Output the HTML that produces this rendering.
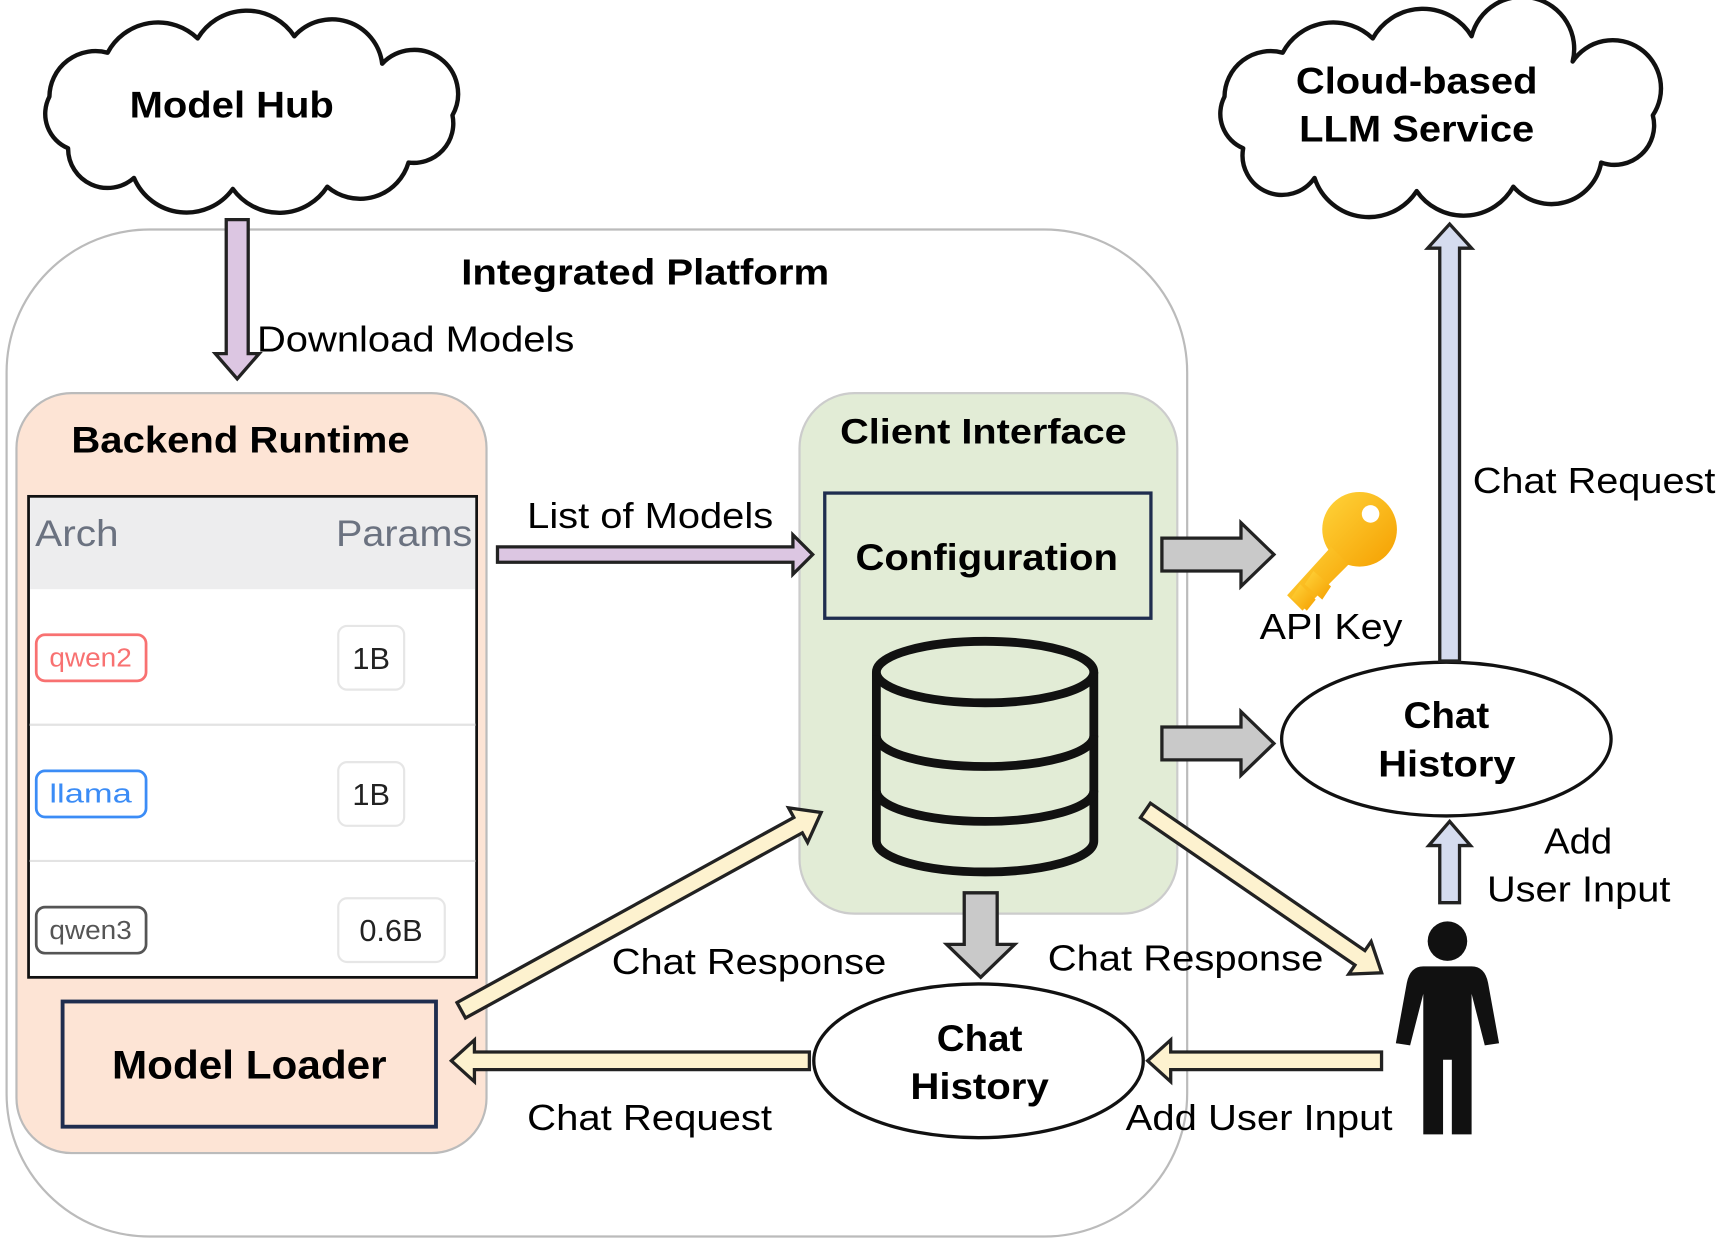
<!DOCTYPE html>
<html><head><meta charset="utf-8"><style>
html,body{margin:0;padding:0;background:#fff}
svg{display:block}
text{font-family:"Liberation Sans",Arial,sans-serif}
</style></head><body>
<svg width="1722" height="1242" viewBox="0 0 1568 1131" preserveAspectRatio="none" xmlns="http://www.w3.org/2000/svg">
<!-- clouds -->
<g fill="#fff" stroke="#111" stroke-width="4" stroke-linejoin="round">
<path d="M62,135 A34,34 0 0 1 45,88 A42,42 0 0 1 98,48 A52,52 0 0 1 180,35 A52,52 0 0 1 268,33 A46,46 0 0 1 348,58 A40,40 0 0 1 412,105 A36,36 0 0 1 372,148 A46,46 0 0 1 298,170 A52,52 0 0 1 212,172 A52,52 0 0 1 122,162 A36,36 0 0 1 62,135 Z"/>
<path d="M1132,135 A34,34 0 0 1 1115,88 A42,42 0 0 1 1168,48 A52,52 0 0 1 1250,35 A52,52 0 0 1 1340,33 A46,46 0 0 1 1432,56 A40,40 0 0 1 1505,105 A36,36 0 0 1 1458,148 A46,46 0 0 1 1378,170 A52,52 0 0 1 1290,174 A52,52 0 0 1 1197,162 A36,36 0 0 1 1132,135 Z"/>
</g>
<text x="118" y="107" font-size="34" font-weight="bold" textLength="186" lengthAdjust="spacingAndGlyphs">Model Hub</text>
<text x="1180" y="85" font-size="34" font-weight="bold" textLength="220" lengthAdjust="spacingAndGlyphs">Cloud-based</text>
<text x="1183" y="129" font-size="34" font-weight="bold" textLength="214" lengthAdjust="spacingAndGlyphs">LLM Service</text>

<!-- integrated platform -->
<rect x="6" y="209" width="1075" height="917" rx="130" fill="#fff" stroke="#bbb" stroke-width="2"/>
<text x="420" y="259" font-size="33" font-weight="bold" textLength="335" lengthAdjust="spacingAndGlyphs">Integrated Platform</text>

<!-- download arrow -->
<polygon points="206,200 226,200 226,322 236,322 216,345 196,322 206,322" fill="#dcc6e2" stroke="#222" stroke-width="3"/>
<text x="234" y="320" font-size="33" textLength="289" lengthAdjust="spacingAndGlyphs">Download Models</text>

<!-- backend runtime -->
<rect x="15" y="358" width="428" height="692" rx="50" fill="#fde4d5" stroke="#bbb" stroke-width="2"/>
<text x="65" y="412" font-size="34" font-weight="bold" textLength="308" lengthAdjust="spacingAndGlyphs">Backend Runtime</text>
<rect x="26" y="452" width="408" height="438" fill="#fff" stroke="#111" stroke-width="2.5"/>
<rect x="27.5" y="453.5" width="405" height="83" fill="#ededee"/>
<line x1="27" y1="660" x2="433" y2="660" stroke="#e3e3e3" stroke-width="2"/>
<line x1="27" y1="784" x2="433" y2="784" stroke="#e3e3e3" stroke-width="2"/>
<text x="32" y="497" font-size="34" fill="#6b7280" textLength="76" lengthAdjust="spacingAndGlyphs">Arch</text>
<text x="306" y="497" font-size="34" fill="#6b7280" textLength="124" lengthAdjust="spacingAndGlyphs">Params</text>
<rect x="33" y="578" width="100" height="42" rx="8" fill="#fff" stroke="#f87171" stroke-width="2.5"/>
<text x="45" y="607" fill="#f87171" font-size="24" font-family="Liberation Mono,monospace" textLength="75" lengthAdjust="spacingAndGlyphs">qwen2</text>
<rect x="33" y="702" width="100" height="42" rx="8" fill="#fff" stroke="#3b8cf6" stroke-width="2.5"/>
<text x="45" y="731" fill="#3b8cf6" font-size="24" font-family="Liberation Mono,monospace" textLength="75" lengthAdjust="spacingAndGlyphs">llama</text>
<rect x="33" y="826" width="100" height="42" rx="8" fill="#fff" stroke="#555" stroke-width="2.5"/>
<text x="45" y="855" fill="#555" font-size="24" font-family="Liberation Mono,monospace" textLength="75" lengthAdjust="spacingAndGlyphs">qwen3</text>
<rect x="308" y="570" width="60" height="58" rx="8" fill="#fff" stroke="#e6e6e6" stroke-width="2"/>
<text x="338" y="609" text-anchor="middle" font-size="28" fill="#222" font-family="Liberation Mono,monospace">1B</text>
<rect x="308" y="694" width="60" height="58" rx="8" fill="#fff" stroke="#e6e6e6" stroke-width="2"/>
<text x="338" y="733" text-anchor="middle" font-size="28" fill="#222" font-family="Liberation Mono,monospace">1B</text>
<rect x="308" y="818" width="97" height="58" rx="8" fill="#fff" stroke="#e6e6e6" stroke-width="2"/>
<text x="356" y="857" text-anchor="middle" font-size="28" fill="#222" font-family="Liberation Mono,monospace">0.6B</text>
<rect x="57" y="912" width="340" height="114" fill="#fde4d5" stroke="#1f2d4f" stroke-width="3.5"/>
<text x="102" y="982" font-size="36" font-weight="bold" textLength="250" lengthAdjust="spacingAndGlyphs">Model Loader</text>

<!-- client interface -->
<rect x="728" y="358" width="344" height="474" rx="50" fill="#e2ecd6" stroke="#ccc" stroke-width="2"/>
<text x="765" y="404" font-size="32" font-weight="bold" textLength="261" lengthAdjust="spacingAndGlyphs">Client Interface</text>
<rect x="751" y="449" width="297" height="114" fill="#e2ecd6" stroke="#1f2d4f" stroke-width="3"/>
<text x="779" y="519" font-size="34" font-weight="bold" textLength="239" lengthAdjust="spacingAndGlyphs">Configuration</text>
<!-- database -->
<g stroke="#111" stroke-width="8" fill="#e2ecd6">
<path d="M798,612 L798,766 A99,28 0 0 0 996,766 L996,612"/>
<ellipse cx="897" cy="612" rx="99" ry="28"/>
<path d="M798,670 A99,28 0 0 0 996,670" fill="none"/>
<path d="M798,720 A99,28 0 0 0 996,720" fill="none"/>
</g>

<!-- list of models arrow -->
<polygon points="453,498 722,498 722,487 740,505 722,523 722,512 453,512" fill="#dcc6e2" stroke="#222" stroke-width="3"/>
<text x="480" y="481" font-size="33" textLength="224" lengthAdjust="spacingAndGlyphs">List of Models</text>

<!-- gray arrows -->
<polygon points="1058,490 1130,490 1130,476 1160,505 1130,534 1130,520 1058,520" fill="#c9c9c9" stroke="#222" stroke-width="3"/>
<polygon points="1058,662 1130,662 1130,648 1160,677 1130,706 1130,692 1058,692" fill="#c9c9c9" stroke="#222" stroke-width="3"/>
<polygon points="878,813 908,813 908,860 924,860 893,890 862,860 878,860" fill="#c9c9c9" stroke="#222" stroke-width="3"/>

<!-- key -->
<defs><linearGradient id="kg" x1="0" y1="0" x2="1" y2="1"><stop offset="0" stop-color="#ffd43b"/><stop offset="1" stop-color="#f59f00"/></linearGradient></defs>
<g fill="url(#kg)">
<circle cx="1238" cy="482" r="34"/>
<polygon points="1212,498 1228,514 1186,556 1172,542"/>
<polygon points="1196,520 1212,534 1204,546 1188,532"/>
<polygon points="1184,532 1198,546 1190,556 1176,544"/>
</g>
<circle cx="1248" cy="468" r="8" fill="#fff"/>
<text x="1147" y="582" font-size="33" textLength="130" lengthAdjust="spacingAndGlyphs">API Key</text>

<!-- right chat history -->
<ellipse cx="1317" cy="673" rx="150" ry="70" fill="#fff" stroke="#111" stroke-width="3"/>
<text x="1278" y="663" font-size="34" font-weight="bold" textLength="78" lengthAdjust="spacingAndGlyphs">Chat</text>
<text x="1255" y="707" font-size="34" font-weight="bold" textLength="125" lengthAdjust="spacingAndGlyphs">History</text>
<polygon points="1311,602 1329,602 1329,226 1340,226 1320,204 1300,226 1311,226" fill="#d5dcef" stroke="#222" stroke-width="3"/>
<text x="1341" y="449" font-size="33" textLength="221" lengthAdjust="spacingAndGlyphs">Chat Request</text>
<polygon points="1311,822 1329,822 1329,770 1339,770 1320,748 1301,770 1311,770" fill="#d5dcef" stroke="#222" stroke-width="3"/>
<text x="1406" y="777" font-size="33" textLength="62" lengthAdjust="spacingAndGlyphs">Add</text>
<text x="1354" y="821" font-size="33" textLength="167" lengthAdjust="spacingAndGlyphs">User Input</text>

<!-- person -->
<g fill="#111">
<circle cx="1318" cy="857" r="18"/>
<path d="M1296,880 L1340,880 Q1352,880 1355,895 L1365,950 L1352,952 L1340,905 L1340,1033 L1322,1033 L1322,965 L1314,965 L1314,1033 L1296,1033 L1296,905 L1284,952 L1271,950 L1281,895 Q1284,880 1296,880 Z"/>
</g>

<!-- bottom chat history -->
<ellipse cx="891" cy="966" rx="150" ry="70" fill="#fff" stroke="#111" stroke-width="3"/>
<text x="853" y="957" font-size="34" font-weight="bold" textLength="78" lengthAdjust="spacingAndGlyphs">Chat</text>
<text x="829" y="1001" font-size="34" font-weight="bold" textLength="126" lengthAdjust="spacingAndGlyphs">History</text>

<!-- cream arrows -->
<g fill="#fdf2cf" stroke="#222" stroke-width="3">
<polygon points="1258,958 1066,958 1066,947 1045,966 1066,985 1066,974 1258,974"/>
<polygon points="737,958 432,958 432,947 411,966 432,985 432,974 737,974"/>
<g transform="translate(420,920) rotate(-28.8)"><polygon points="0,-8 350,-8 350,-18 374,0 350,18 350,8 0,8"/></g>
<g transform="translate(1043,738) rotate(34.5)"><polygon points="0,-8 237,-8 237,-18 261,0 237,18 237,8 0,8"/></g>
</g>
<text x="557" y="887" font-size="33" textLength="250" lengthAdjust="spacingAndGlyphs">Chat Response</text>
<text x="954" y="884" font-size="33" textLength="251" lengthAdjust="spacingAndGlyphs">Chat Response</text>
<text x="480" y="1029" font-size="33" textLength="223" lengthAdjust="spacingAndGlyphs">Chat Request</text>
<text x="1025" y="1029" font-size="33" textLength="243" lengthAdjust="spacingAndGlyphs">Add User Input</text>
</svg>
</body></html>
